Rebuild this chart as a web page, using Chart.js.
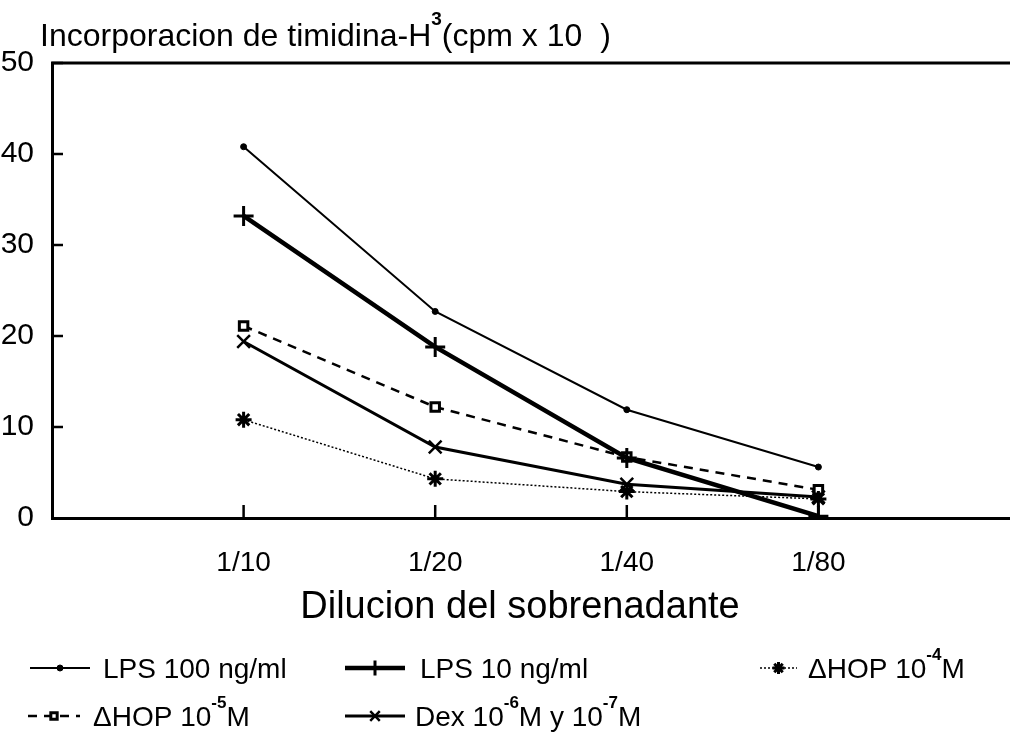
<!DOCTYPE html>
<html>
<head>
<meta charset="utf-8">
<script src="https://cdn.jsdelivr.net/npm/chart.js@4.4.1/dist/chart.umd.min.js"></script>
<style>
  html, body { margin: 0; background: #fff; }
  canvas { display: block; }
</style>
</head>
<body>
<canvas id="chart" width="1010" height="737"></canvas>
<script>
// data (cpm x 10^n)
const diluciones = ['1/10', '1/20', '1/40', '1/80'];
const lps100 = [40.8, 22.7, 11.9, 5.6];
const lps10 = [33.2, 18.8, 6.6, 0.2];
const hop4 = [10.8, 4.3, 2.9, 2.1];
const hop5 = [21.1, 12.2, 6.7, 3.1];
const dex = [19.4, 7.8, 3.7, 2.3];

const FONT = '"Liberation Sans", Arial, sans-serif';
const toXY = arr => arr.map((v, i) => ({ x: i + 1, y: v }));

// draws text with superscript parts, returns end x
function drawParts(ctx, parts, x, y, size) {
  ctx.textAlign = 'left';
  ctx.textBaseline = 'alphabetic';
  parts.forEach(p => {
    if (p.sup) {
      ctx.font = 'bold ' + Math.round(size * 0.6) + 'px ' + FONT;
      ctx.fillText(p.t, x, y - size * 0.65);
    } else {
      ctx.font = size + 'px ' + FONT;
      ctx.fillText(p.t, x, y);
    }
    x += ctx.measureText(p.t).width;
  });
  return x;
}

const legendItems = [
  { ds: 0, x0: 30, x1: 90, y: 668, tx: 103, parts: [{ t: 'LPS 100 ng/ml' }] },
  { ds: 1, x0: 345, x1: 405, y: 668, tx: 420, parts: [{ t: 'LPS 10 ng/ml' }] },
  { ds: 2, x0: 760, x1: 797, y: 668, tx: 808, parts: [{ t: '\u0394HOP 10' }, { t: '-4', sup: true }, { t: 'M' }] },
  { ds: 3, x0: 28, x1: 80, y: 716, tx: 93, parts: [{ t: '\u0394HOP 10' }, { t: '-5', sup: true }, { t: 'M' }] },
  { ds: 4, x0: 345, x1: 405, y: 716, tx: 415, parts: [{ t: 'Dex 10' }, { t: '-6', sup: true }, { t: 'M y 10' }, { t: '-7', sup: true }, { t: 'M' }] }
];

const decor = {
  id: 'decor',
  afterDraw(chart) {
    const ctx = chart.ctx;
    const { left, right, top, bottom } = chart.chartArea;
    const xs = chart.scales.x, ys = chart.scales.y;
    ctx.save();
    ctx.strokeStyle = '#000';
    ctx.fillStyle = '#000';
    // top frame line
    ctx.lineWidth = 3;
    ctx.beginPath();
    ctx.moveTo(left - 1, top);
    ctx.lineTo(right, top);
    ctx.stroke();
    // inward ticks
    ctx.lineWidth = 2.5;
    [10, 20, 30, 40, 50].forEach(v => {
      const py = ys.getPixelForValue(v);
      ctx.beginPath(); ctx.moveTo(left, py); ctx.lineTo(left + 11, py); ctx.stroke();
    });
    diluciones.forEach((d, i) => {
      const px = xs.getPixelForValue(i + 1);
      ctx.beginPath(); ctx.moveTo(px, bottom); ctx.lineTo(px, bottom - 13); ctx.stroke();
    });
    // title on top
    drawParts(ctx, [{ t: 'Incorporacion de timidina-H' }, { t: '3', sup: true }, { t: '(cpm x 10  )' }], 40, 46, 32);
    // x axis title
    ctx.font = '38px ' + FONT;
    ctx.textAlign = 'center';
    ctx.fillText('Dilucion del sobrenadante', 520, 618);
    // legend
    legendItems.forEach(it => {
      const ds = chart.data.datasets[it.ds];
      ctx.save();
      ctx.lineWidth = ds.borderWidth;
      ctx.setLineDash(ds.borderDash || []);
      ctx.beginPath(); ctx.moveTo(it.x0, it.y); ctx.lineTo(it.x1, it.y); ctx.stroke();
      ctx.setLineDash([]);
      ctx.fillStyle = ds.pointBackgroundColor;
      ctx.lineWidth = ds.pointBorderWidth;
      const r = Math.max(3, ds.pointRadius * 0.75);
      Chart.helpers.drawPoint(ctx, { pointStyle: ds.pointStyle, radius: r, rotation: 0, borderWidth: ds.pointBorderWidth }, (it.x0 + it.x1) / 2, it.y);
      ctx.restore();
      ctx.fillStyle = '#000';
      drawParts(ctx, it.parts, it.tx, it.y + 10, 28);
    });
    ctx.restore();
  }
};

new Chart(document.getElementById('chart'), {
  type: 'line',
  data: {
    datasets: [
      { label: 'LPS 100 ng/ml', data: toXY(lps100), borderColor: '#000', borderWidth: 2,
        pointStyle: 'circle', pointRadius: 3, pointBackgroundColor: '#000', pointBorderColor: '#000', pointBorderWidth: 1 },
      { label: 'LPS 10 ng/ml', data: toXY(lps10), borderColor: '#000', borderWidth: 4.5,
        pointStyle: 'cross', pointRadius: 10, pointBackgroundColor: '#000', pointBorderColor: '#000', pointBorderWidth: 3 },
      { label: '\u0394HOP 10-4 M', data: toXY(hop4), borderColor: '#000', borderWidth: 1.5, borderDash: [2, 2],
        pointStyle: 'star', pointRadius: 8, pointBackgroundColor: '#000', pointBorderColor: '#000', pointBorderWidth: 3 },
      { label: '\u0394HOP 10-5 M', data: toXY(hop5), borderColor: '#000', borderWidth: 2.5, borderDash: [9, 7],
        pointStyle: 'rect', pointRadius: 6, pointBackgroundColor: '#fff', pointBorderColor: '#000', pointBorderWidth: 3 },
      { label: 'Dex 10-6 M y 10-7 M', data: toXY(dex), borderColor: '#000', borderWidth: 3,
        pointStyle: 'crossRot', pointRadius: 9, pointBackgroundColor: '#000', pointBorderColor: '#000', pointBorderWidth: 2.5 }
    ]
  },
  options: {
    responsive: false,
    animation: false,
    layout: { autoPadding: false, padding: { top: 63, right: 0, left: 0, bottom: 0 } },
    plugins: { legend: { display: false }, tooltip: { enabled: false } },
    scales: {
      x: {
        type: 'linear', min: 0, max: 5,
        grid: { display: false },
        border: { display: true, color: '#000', width: 3 },
        ticks: {
          stepSize: 1, autoSkip: false, color: '#000', padding: 20,
          font: { family: FONT, size: 28 },
          callback: v => diluciones[v - 1] || ''
        },
        afterFit: s => { s.height = 219; s.paddingRight = 0; s.paddingLeft = 0; }
      },
      y: {
        min: 0, max: 50,
        grid: { display: false },
        border: { display: true, color: '#000', width: 3 },
        ticks: { stepSize: 10, color: '#000', padding: 10, font: { family: FONT, size: 30 } },
        afterFit: s => { s.width = 52; s.paddingTop = 0; s.paddingBottom = 0; }
      }
    }
  },
  plugins: [decor]
});
</script>
</body>
</html>
